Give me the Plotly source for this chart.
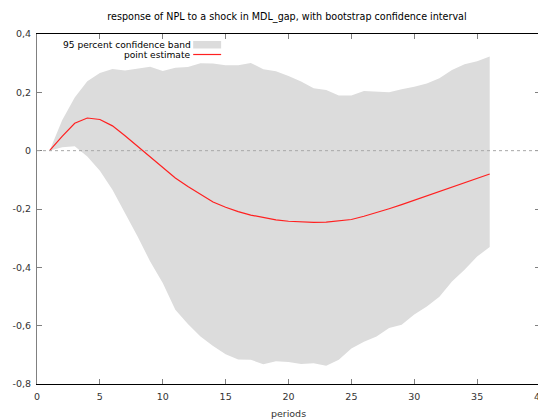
import plotly.graph_objects as go

periods = list(range(1, 37))
point_estimate = [0.000, 0.049, 0.094, 0.112, 0.107, 0.085, 0.051, 0.015, -0.023, -0.059,
                  -0.094, -0.123, -0.151, -0.176, -0.194, -0.209, -0.221, -0.230, -0.237, -0.242,
                  -0.245, -0.246, -0.245, -0.241, -0.236, -0.225, -0.213, -0.199, -0.185, -0.170,
                  -0.154, -0.139, -0.124, -0.109, -0.095, -0.080]
band_upper = [0.000, 0.104, 0.182, 0.238, 0.266, 0.280, 0.275, 0.281, 0.288, 0.273,
              0.284, 0.287, 0.300, 0.299, 0.293, 0.293, 0.301, 0.279, 0.272, 0.256,
              0.237, 0.214, 0.208, 0.189, 0.189, 0.205, 0.203, 0.200, 0.211, 0.219,
              0.230, 0.248, 0.277, 0.296, 0.307, 0.323]
band_lower = [0.000, 0.012, 0.015, -0.020, -0.069, -0.134, -0.212, -0.294, -0.380, -0.454,
              -0.545, -0.594, -0.637, -0.670, -0.698, -0.716, -0.717, -0.732, -0.722, -0.725,
              -0.731, -0.729, -0.737, -0.717, -0.678, -0.655, -0.637, -0.608, -0.597, -0.562,
              -0.534, -0.501, -0.449, -0.408, -0.363, -0.330]

x_ticks = [0, 5, 10, 15, 20, 25, 30, 35, 40]
y_ticks = [0.4, 0.2, 0.0, -0.2, -0.4, -0.6, -0.8]
y_tick_text = ["0,4", "0,2", "0", "-0,2", "-0,4", "-0,6", "-0,8"]

title_text = "response of NPL to a shock in MDL_gap, with bootstrap confidence interval"
band_label = "95 percent confidence band"
line_label = "point estimate"

FONT = "DejaVu Sans"
# the page body adds an 8px offset; figure is sized so the plot lands where the reference has it
OFF = 8
SX0, SX1, SY0, SY1 = 36.5, 540.5, 34, 384   # plot area in screen pixels
W, H = 546 - OFF, 419 - OFF
L, R = SX0 - OFF, 546 - SX1
T, B = SY0 - OFF, 419 - SY1
PW, PH = SX1 - SX0, SY1 - SY0


def px_x(sx):
    return (sx - SX0) / PW


def px_y(sy):
    return (SY1 - sy) / PH


fig = go.Figure()

fig.add_trace(go.Scatter(
    x=periods + periods[::-1],
    y=band_upper + band_lower[::-1],
    fill="toself", fillcolor="#dcdcdc", line=dict(width=0),
    mode="lines", name=band_label, hoverinfo="skip", showlegend=False))

fig.add_shape(type="line", xref="x", yref="y", x0=0, x1=40, y0=0, y1=0,
              line=dict(color="#a8a8a8", width=1, dash="dot"), layer="above")

fig.add_trace(go.Scatter(
    x=periods, y=point_estimate, mode="lines",
    line=dict(color="#ff2020", width=1.2), name=line_label, showlegend=False))

# legend (gnuplot style: text left of sample)
LEG_FONT = dict(family=FONT, size=9.1, color="#000")
fig.add_annotation(xref="paper", yref="paper", x=px_x(192.5), y=px_y(45),
                   text=band_label, showarrow=False, xanchor="right", yanchor="middle",
                   font=LEG_FONT)
fig.add_annotation(xref="paper", yref="paper", x=px_x(192.5), y=px_y(55.5),
                   text=line_label, showarrow=False, xanchor="right", yanchor="middle",
                   font=LEG_FONT)
fig.add_shape(type="rect", xref="paper", yref="paper",
              x0=px_x(193), x1=px_x(221), y0=px_y(48.5), y1=px_y(41),
              fillcolor="#dcdcdc", line=dict(width=0))
fig.add_shape(type="line", xref="paper", yref="paper",
              x0=px_x(193), x1=px_x(221), y0=px_y(54.5), y1=px_y(54.5),
              line=dict(color="#ff2020", width=1.2))

axis_common = dict(showgrid=False, zeroline=False, showline=True,
                   linewidth=1, mirror="ticks", ticks="inside", ticklen=5,
                   tickcolor="#808080", automargin=False, ticklabeloverflow="allow",
                   tickfont=dict(family=FONT, size=9.5, color="#333"))

fig.update_xaxes(range=[0, 40], tickvals=x_ticks, ticktext=[str(v) for v in x_ticks],
                 linecolor="#000", ticklabelstandoff=4,
                 title=dict(text="periods", font=dict(family=FONT, size=9.5, color="#333"),
                            standoff=8),
                 **axis_common)
fig.update_yaxes(range=[-0.8, 0.4], tickvals=y_ticks, ticktext=y_tick_text,
                 linecolor="#808080", ticklabelstandoff=3, **axis_common)

fig.update_layout(
    width=W, height=H,
    margin=dict(l=L, r=R, t=T, b=B),
    paper_bgcolor="white", plot_bgcolor="white",
    showlegend=False,
    title=dict(text=title_text, x=(287 - OFF) / W, xanchor="center", y=1 - (17 - OFF) / H,
               yanchor="middle", font=dict(family=FONT, size=9.6, color="#000")),
)

fig.write_html("out.html")
